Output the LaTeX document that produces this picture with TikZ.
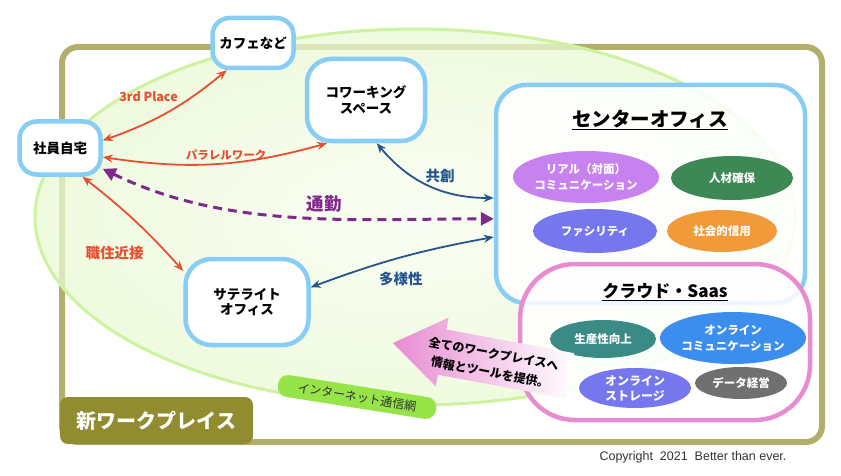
\documentclass[tikz,border=0pt]{standalone}
\usepackage{fontspec}
\setmainfont{Noto Sans CJK JP}
\newfontfamily\copyfont{Liberation Sans}
\usepackage{tikz}
\usetikzlibrary{shapes.geometric, arrows.meta, positioning}
\usepackage{xcolor}

\definecolor{placeblue}{RGB}{135, 205, 245}
\definecolor{linkred}{RGB}{232, 78, 48}
\definecolor{linkblue}{RGB}{38, 84, 140}
\definecolor{commutepurple}{RGB}{128, 40, 140}
\definecolor{frameolive}{RGB}{178, 174, 108}
\definecolor{labelolive}{RGB}{146, 140, 48}
\definecolor{ellborder}{RGB}{205, 242, 160}
\definecolor{ellfill}{RGB}{234, 249, 212}
\definecolor{ellinner}{RGB}{247, 253, 240}
\definecolor{cloudpink}{RGB}{232, 140, 210}
\definecolor{realpurple}{RGB}{200, 130, 240}
\definecolor{jinzaigreen}{RGB}{62, 136, 86}
\definecolor{facilityblue}{RGB}{118, 118, 238}
\definecolor{shakaiorange}{RGB}{240, 154, 58}
\definecolor{seisanteal}{RGB}{58, 138, 134}
\definecolor{onlineblue}{RGB}{60, 142, 238}
\definecolor{datagray}{RGB}{112, 112, 112}
\definecolor{netgreen}{RGB}{150, 228, 72}
\definecolor{copygray}{RGB}{50, 50, 50}

\begin{document}
\begin{tikzpicture}[
        x=1pt, y=1pt,
        place/.style={rectangle, rounded corners=17pt, draw=placeblue,
                      line width=4.5pt, fill=white, align=center, inner sep=2pt,
                      font=\bfseries\fontsize{13.5}{15.5}\selectfont},
        item/.style={ellipse, inner sep=0pt, align=center, text=white,
                     font=\bfseries\fontsize{11.5}{16}\selectfont},
        redlink/.style={{Stealth[length=10pt,width=8pt]}-{Stealth[length=10pt,width=8pt]},
                        line width=1.8pt, draw=linkred},
        bluelink/.style={{Stealth[length=10pt,width=8pt]}-{Stealth[length=10pt,width=8pt]},
                         line width=1.8pt, draw=linkblue},
        commute/.style={{Triangle[length=13pt,width=13pt]}-{Triangle[length=13pt,width=13pt]},
                        line width=3pt, draw=commutepurple, dash pattern=on 9pt off 6pt},
        redlabel/.style={text=linkred, inner sep=1pt, font=\bfseries\fontsize{12.5}{15}\selectfont},
        bluelabel/.style={text=linkblue, inner sep=1pt, font=\bfseries\fontsize{14.5}{17}\selectfont},
        boxtitle/.style={font=\bfseries\fontsize{19.5}{22}\selectfont}
      ]
        \useasboundingbox (0,0) rectangle (841,475);
        % frame and network area
        \draw[frameolive, line width=6pt, rounded corners=16pt] (62,33) rectangle (822,428);
        \draw[ellborder, line width=3pt, inner color=ellinner, outer color=ellfill, fill opacity=0.75]
              (415,258) ellipse [x radius=380, y radius=188];
        \node[fill=labelolive, rounded corners=8pt, minimum width=193pt, minimum height=47pt,
              text=white, font=\bfseries\fontsize{20}{24}\selectfont] (newwp) at (156.5,54.5) {新ワークプレイス};

        % center office
        \node[draw=placeblue, line width=4.5pt, rounded corners=30pt, fill=white, fill opacity=0.85,
              minimum width=309pt, minimum height=218pt] (hq) at (650.5,281) {};
        \node[boxtitle] (hqtitle) at (650,355) {\underline{センターオフィス}};
        \node[item, fill=realpurple, minimum width=142pt, minimum height=52pt] (real) at (586,298) {リアル（対面）\\コミュニケーション};
        \node[item, fill=jinzaigreen, minimum width=122pt, minimum height=44pt] (jinzai) at (732,297) {人材確保};
        \node[item, fill=facilityblue, minimum width=124pt, minimum height=44pt] (facility) at (595,244) {ファシリティ};
        \node[item, fill=shakaiorange, minimum width=110pt, minimum height=42pt] (shakai) at (722,244) {社会的信用};

        % cloud
        \node[draw=cloudpink, line width=4.5pt, rounded corners=55pt, fill=white, fill opacity=0.85,
              minimum width=290pt, minimum height=156pt] (cloud) at (665,133) {};
        \node[boxtitle, font=\bfseries\fontsize{17}{20}\selectfont] (cloudtitle) at (665,183) {\underline{クラウド・Saas}};
        \node[item, fill=seisanteal, minimum width=106pt, minimum height=38pt] (seisan) at (603,136) {生産性向上};
        \node[item, fill=onlineblue, minimum width=144pt, minimum height=52pt] (onlinecomm) at (733,137) {オンライン\\コミュニケーション};
        \node[item, fill=facilityblue, minimum width=112pt, minimum height=40pt, font=\bfseries\fontsize{12}{15}\selectfont] (storage) at (635,87) {オンライン\\ストレージ};
        \node[item, fill=datagray, minimum width=92pt, minimum height=32pt] (data) at (741,92) {データ経営};

        % places
        \node[place, minimum width=81pt, minimum height=50pt] (cafe) at (253,432) {カフェなど};
        \node[place, minimum width=118pt, minimum height=82pt, rounded corners=24pt] (cowork) at (366,375) {コワーキング\\スペース};
        \node[place, minimum width=81pt, minimum height=53pt] (home) at (60,327) {社員自宅};
        \node[place, minimum width=123pt, minimum height=86pt, rounded corners=26pt] (sat) at (247,173) {サテライト\\オフィス};

        % links
        \draw[redlink] (home.10) to[bend right=10]
              node[redlabel, pos=.45, above=11pt, xshift=-14pt] {3rd Place} (cafe.-134);
        \draw[redlink] (home.-12) to[bend right=12]
              node[redlabel, pos=.55, above=1pt, font=\bfseries\fontsize{11.5}{14}\selectfont] {パラレルワーク} (cowork.228);
        \draw[redlink] (home.-52) to[bend left=5]
              node[redlabel, pos=.72, left=10pt, yshift=-12pt, font=\bfseries\fontsize{14.5}{17}\selectfont] {職住近接} (sat.154);
        \draw[commute] (home.-26) to[out=-26, in=180, looseness=0.9]
              node[pos=.58, above=1pt, text=commutepurple, font=\bfseries\fontsize{17.5}{20}\selectfont] {通勤} (hq.189);
        \draw[bluelink] (cowork.-76) to[bend right=25]
              node[bluelabel, pos=.55, above=3pt, xshift=6pt] {共創} ([yshift=-4pt]hq.west);
        \draw[bluelink] (sat.13) to[bend left=5]
              node[bluelabel, pos=.5, below=13pt] {多様性} ([yshift=-43pt]hq.west);

        % provide arrow
        \begin{scope}[shift={(393,132)}, rotate=-10.5]
          \shade[left color=cloudpink, middle color=cloudpink!80, right color=white]
                (0,0) -- (50,35) -- (50,23) -- (180,23) -- (180,-23) -- (50,-23) -- (50,-35) -- cycle;
        \end{scope}
        \node[rotate=-10.5, align=center, inner sep=1pt, font=\bfseries\fontsize{12}{14}\selectfont] (provide) at (492,112)
              {全てのワークプレイスへ\\[5pt]情報とツールを提供。};

        % network
        \node[fill=netgreen, rounded corners=10pt, minimum width=160pt, minimum height=22pt, rotate=-9,
              text=copygray, font=\fontsize{12}{14}\selectfont] (net) at (357,78) {インターネット通信網};

        \node[text=copygray, font=\copyfont\fontsize{12.5}{14}\selectfont] (copy) at (693,18) {Copyright\ \ 2021\ \ Better than ever.};
      \end{tikzpicture}
\end{document}
